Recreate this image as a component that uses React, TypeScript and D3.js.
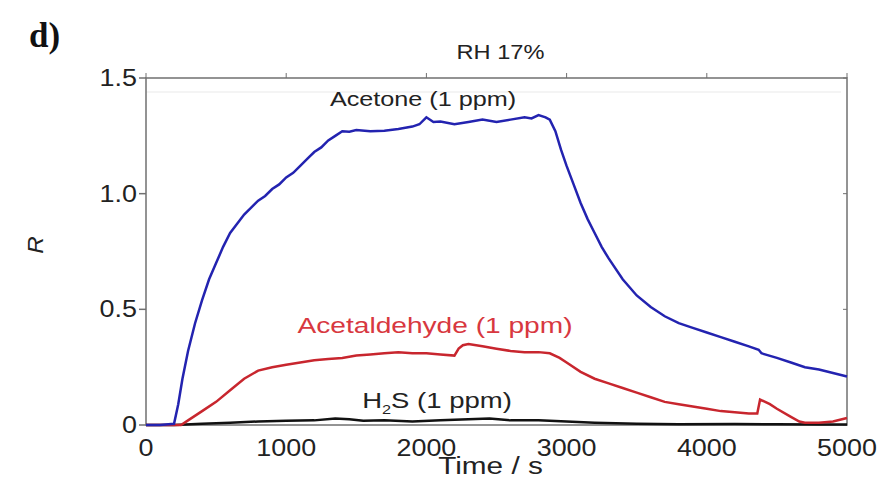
import React from "react";
import * as d3 from "d3";

const acetoneT = [0,100,200,230,260,300,350,400,450,500,550,600,650,700,750,800,850,900,950,1000,1050,1100,1150,1200,1250,1300,1350,1400,1450,1500,1600,1700,1800,1900,1950,2000,2050,2100,2200,2300,2400,2500,2600,2700,2750,2800,2850,2880,2920,2960,3000,3050,3100,3150,3200,3250,3300,3400,3500,3600,3700,3800,3900,4000,4100,4200,4300,4370,4390,4500,4600,4700,4800,4900,5000];
const acetoneR = [0,0,0.005,0.09,0.2,0.32,0.44,0.54,0.63,0.7,0.77,0.83,0.87,0.91,0.94,0.97,0.99,1.02,1.04,1.07,1.09,1.12,1.15,1.18,1.2,1.23,1.25,1.27,1.268,1.275,1.27,1.272,1.28,1.29,1.3,1.33,1.31,1.312,1.3,1.31,1.32,1.31,1.32,1.33,1.325,1.34,1.33,1.32,1.27,1.19,1.12,1.04,0.96,0.89,0.83,0.77,0.72,0.63,0.56,0.51,0.47,0.44,0.42,0.4,0.38,0.36,0.34,0.325,0.31,0.29,0.27,0.25,0.24,0.225,0.21];

const acetaldehydeT = [0,250,300,400,500,600,700,800,900,1000,1100,1200,1300,1400,1500,1600,1700,1800,1900,2000,2100,2200,2230,2260,2300,2400,2500,2600,2700,2800,2880,2950,3000,3100,3200,3300,3400,3500,3600,3700,3800,3900,4000,4100,4200,4300,4360,4380,4450,4500,4600,4660,4700,4800,4900,5000];
const acetaldehydeR = [0,0,0.02,0.06,0.1,0.15,0.2,0.235,0.25,0.26,0.27,0.28,0.285,0.29,0.3,0.305,0.31,0.315,0.31,0.31,0.305,0.3,0.33,0.345,0.35,0.34,0.33,0.32,0.315,0.315,0.31,0.29,0.27,0.23,0.2,0.18,0.16,0.14,0.12,0.1,0.09,0.08,0.07,0.06,0.055,0.05,0.05,0.11,0.09,0.07,0.035,0.015,0.01,0.01,0.015,0.03];

const h2sT = [0,200,400,600,800,1000,1200,1350,1450,1550,1700,1900,2100,2300,2450,2600,2800,3000,3200,3500,3800,4200,4500,4800,5000];
const h2sR = [0,0,0.005,0.01,0.015,0.018,0.02,0.028,0.025,0.018,0.02,0.015,0.02,0.025,0.028,0.02,0.02,0.015,0.01,0.005,0.003,0.004,0.003,0.002,0.002];

const xTicks = [0,1000,2000,3000,4000,5000];
const yTicks = [0,0.5,1.0,1.5];
const yTickLabels = ["0","0.5","1.0","1.5"];

const W = 884, H = 483;
const L = 146, R = 847, T = 78, B = 425;

export default function App() {
  const x = d3.scaleLinear().domain([0, 5000]).range([L, R]);
  const y = d3.scaleLinear().domain([0, 1.5]).range([B, T]);
  const line = (ts: number[], vs: number[]) =>
    d3.line<number>().x((_, i) => x(ts[i])).y((v) => y(v))(vs) || "";
  const font = "Liberation Sans, Arial, sans-serif";
  const axisCol = "#707070";
  return (
    <svg width={W} height={H} style={{ position: "absolute", left: 0, top: 0, background: "#fff" }}>
      <text x={29} y={47} fontFamily="Liberation Serif, Times New Roman, serif" fontWeight="bold" fontSize={35} fill="#111">d)</text>
      <text transform={`translate(${(L + R) / 2 + 4},59) scale(1.18,1)`} textAnchor="middle" fontFamily={font} fontSize={20} fill="#222">RH 17%</text>
      <line x1={L} x2={R - 6} y1={92} y2={92} stroke="#f0f0f0" strokeWidth={1.5} />
      <rect x={L} y={T} width={R - L} height={B - T} fill="none" stroke={axisCol} strokeWidth={1.5} />
      {yTicks.map((v, i) => (
        <g key={"y" + i}>
          <line x1={L - 7} x2={L} y1={y(v)} y2={y(v)} stroke={axisCol} strokeWidth={1.5} />
          <line x1={R - 4} x2={R} y1={y(v)} y2={y(v)} stroke={axisCol} strokeWidth={1} />
          <text transform={`translate(${L - 9},${y(v) + 8}) scale(1.17,1)`} textAnchor="end" fontFamily={font} fontSize={23} fill="#222">{yTickLabels[i]}</text>
        </g>
      ))}
      {xTicks.map((v, i) => (
        <g key={"x" + i}>
          <line x1={x(v)} x2={x(v)} y1={T - 5} y2={T} stroke={axisCol} strokeWidth={1} />
          <text transform={`translate(${x(v)},${B + 31}) scale(1.12,1)`} textAnchor="middle" fontFamily={font} fontSize={24} fill="#222">{v}</text>
        </g>
      ))}
      <text transform={`translate(${x(2500) - 6},${B + 49}) scale(1.24,1)`} textAnchor="middle" fontFamily={font} fontSize={24} fill="#222">Time / s</text>
      <text transform={`translate(43,245) rotate(-90) scale(1.1,1)`} textAnchor="middle" fontFamily={font} fontStyle="italic" fontSize={22} fill="#222">R</text>
      <path d={line(h2sT, h2sR)} fill="none" stroke="#111" strokeWidth={2.5} />
      <path d={line(acetaldehydeT, acetaldehydeR)} fill="none" stroke="#c8262e" strokeWidth={2.5} />
      <path d={line(acetoneT, acetoneR)} fill="none" stroke="#2323b0" strokeWidth={2.5} />
      <text transform={`translate(423,106) scale(1.2,1)`} textAnchor="middle" fontFamily={font} fontSize={21} fill="#222">Acetone (1 ppm)</text>
      <text transform={`translate(435,333) scale(1.25,1)`} textAnchor="middle" fontFamily={font} fontSize={22.5} fill="#d8383f">Acetaldehyde (1 ppm)</text>
      <text transform={`translate(437,408) scale(1.25,1)`} textAnchor="middle" fontFamily={font} fontSize={22} fill="#222">
        H<tspan dy={6} fontSize={13}>2</tspan><tspan dy={-6}>S (1 ppm)</tspan>
      </text>
    </svg>
  );
}
